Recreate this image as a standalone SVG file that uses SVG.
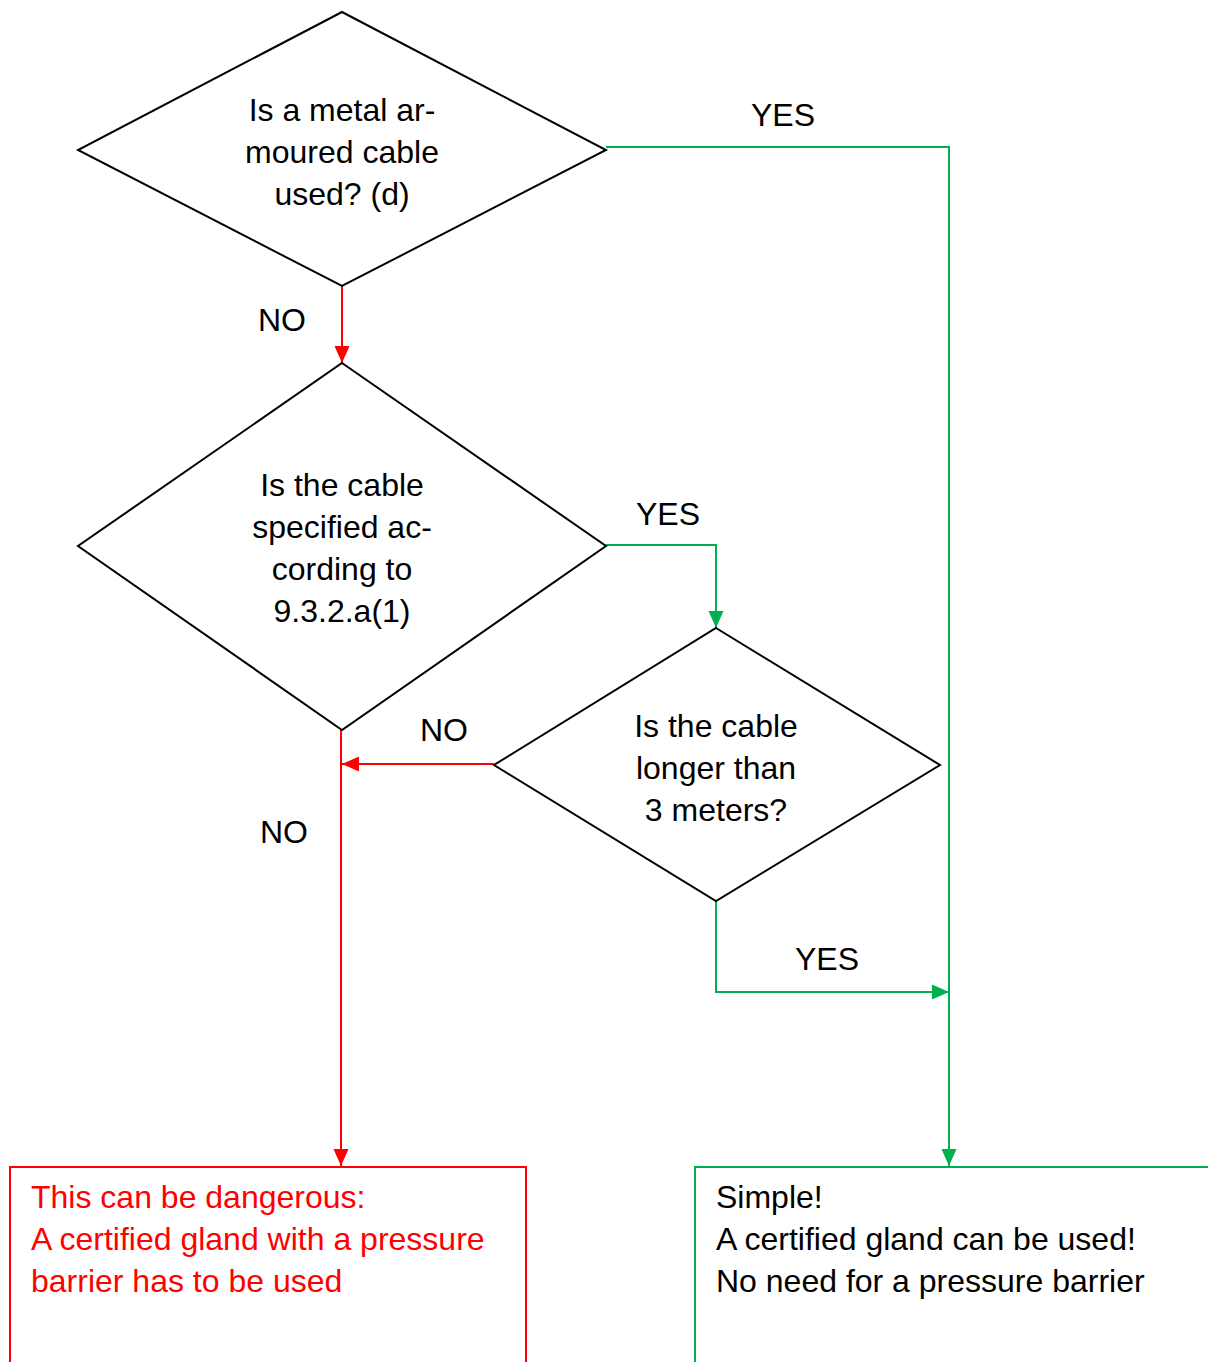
<svg xmlns="http://www.w3.org/2000/svg" width="1208" height="1362" viewBox="0 0 1208 1362">
<style>
text{font-family:"Liberation Sans",Arial,sans-serif;font-size:32px;fill:#000}
.c{text-anchor:middle}
.shape{fill:#fff;stroke:#000;stroke-width:2}
.r{fill:none;stroke:#FF0000;stroke-width:2}
.g{fill:none;stroke:#00B050;stroke-width:2}
.rt{fill:#FF0000}
</style>
<defs>
<marker id="ar" markerUnits="userSpaceOnUse" markerWidth="18" markerHeight="18" viewBox="0 0 18 18" refX="17" refY="9" orient="auto"><path d="M0,1.5 L17,9 L0,16.5 Z" fill="#FF0000"/></marker>
<marker id="ag" markerUnits="userSpaceOnUse" markerWidth="18" markerHeight="18" viewBox="0 0 18 18" refX="17" refY="9" orient="auto"><path d="M0,1.5 L17,9 L0,16.5 Z" fill="#00B050"/></marker>
</defs>
<g id="connectors">
<path class="r" d="M342,286 L342,363" marker-end="url(#ar)"/>
<path class="g" d="M606,147 L949,147 L949,1166" marker-end="url(#ag)"/>
<path class="g" d="M606,545 L716,545 L716,628" marker-end="url(#ag)"/>
<path class="r" d="M494,764 L342,764" marker-end="url(#ar)"/>
<path class="r" d="M341,730 L341,1166" marker-end="url(#ar)"/>
<path class="g" d="M716,901 L716,992 L949,992" marker-end="url(#ag)"/>
<text class="c" x="783" y="126">YES</text>
<text class="c" x="282" y="331">NO</text>
<text class="c" x="668" y="525">YES</text>
<text class="c" x="444" y="741">NO</text>
<text class="c" x="284" y="843">NO</text>
<text class="c" x="827" y="970">YES</text>
</g>
<g id="d1">
<polygon class="shape" points="342,12 606,150 342,286 78,150"/>
<text class="c" x="342" y="121">Is a metal ar-</text>
<text class="c" x="342" y="163">moured cable</text>
<text class="c" x="342" y="205">used? (d)</text>
</g>
<g id="d2">
<polygon class="shape" points="342,363 606,546 342,730 78,546"/>
<text class="c" x="342" y="496">Is the cable</text>
<text class="c" x="342" y="538">specified ac-</text>
<text class="c" x="342" y="580">cording to</text>
<text class="c" x="342" y="622">9.3.2.a(1)</text>
</g>
<g id="d3">
<polygon class="shape" points="716,628 940,765 716,901 494,765"/>
<text class="c" x="716" y="737">Is the cable</text>
<text class="c" x="716" y="779">longer than</text>
<text class="c" x="716" y="821">3 meters?</text>
</g>
<g id="danger">
<rect x="10" y="1167" width="516" height="210" fill="#fff" stroke="#FF0000" stroke-width="2"/>
<text class="rt" x="31" y="1208">This can be dangerous:</text>
<text class="rt" x="31" y="1250">A certified gland with a pressure</text>
<text class="rt" x="31" y="1292">barrier has to be used</text>
</g>
<g id="simple">
<rect x="695" y="1167" width="530" height="210" fill="#fff" stroke="#00B050" stroke-width="2"/>
<text x="716" y="1208">Simple!</text>
<text x="716" y="1250">A certified gland can be used!</text>
<text x="716" y="1292">No need for a pressure barrier</text>
</g>
</svg>
